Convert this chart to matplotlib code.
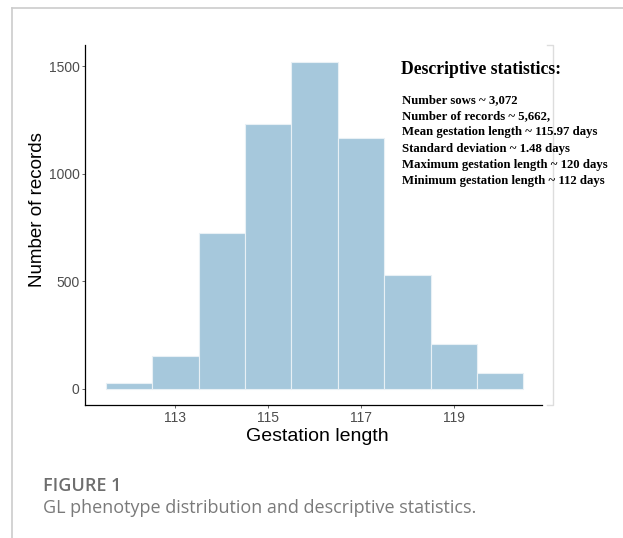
import matplotlib
matplotlib.use("Agg")
import matplotlib.pyplot as plt
from matplotlib.lines import Line2D

# Gestation length (days) and number of records per day
gestation = [112, 113, 114, 115, 116, 117, 118, 119, 120]
records = [28, 154, 726, 1233, 1523, 1168, 531, 206, 75]
x_ticks = [113, 115, 117, 119]
y_ticks = [0, 500, 1000, 1500]

stats_title = "Descriptive statistics:"
stats_lines = [
    "Number sows ~ 3,072",
    "Number of records ~ 5,662,",
    "Mean gestation length ~ 115.97 days",
    "Standard deviation ~ 1.48 days",
    "Maximum gestation length ~ 120 days",
    "Minimum gestation length ~ 112 days",
]

fig = plt.figure(figsize=(6.23, 5.38), dpi=100)
W, H = 623, 538

# page frame (light grey lines top and left)
fig.add_artist(Line2D([12 / W, 1], [1 - 8 / H, 1 - 8 / H], color="#cccccc", lw=1.2))
fig.add_artist(Line2D([12 / W, 12 / W], [0, 1 - 8 / H], color="#cccccc", lw=1.2))

# faint frame edge of the embedded image on the right
fig.add_artist(Line2D([547 / W, 553 / W, 553 / W, 547 / W],
                      [1 - 45 / H, 1 - 45 / H, 1 - 405 / H, 1 - 405 / H],
                      color="#dddddd", lw=1.0))

ax = fig.add_axes([85 / W, 1 - 405 / H, 457 / W, 360 / H])
ax.bar(gestation, records, width=1.0, color="#a6c8dc", edgecolor="#e8f0f5", linewidth=0.8)

ax.set_xlim(111.05, 120.9)
ax.set_ylim(-76, 1600)
ax.set_xticks(x_ticks)
ax.set_yticks(y_ticks)
ax.tick_params(axis="both", colors="#4d4d4d", labelsize=10, length=2.5, width=0.6)
ax.tick_params(axis="x", pad=1.5)
ax.tick_params(axis="y", pad=1.5)
for lab in ax.get_xticklabels() + ax.get_yticklabels():
    lab.set_family("Liberation Sans")
for side in ["top", "right"]:
    ax.spines[side].set_visible(False)
for side in ["left", "bottom"]:
    ax.spines[side].set_color("black")
    ax.spines[side].set_linewidth(0.9)

ax.set_xlabel("Gestation length", fontsize=14, family="Liberation Sans", color="black")
ax.set_ylabel("Number of records", fontsize=13.5, family="Liberation Sans", color="black")
ax.xaxis.set_label_coords(0.508, -0.063)
ax.yaxis.set_label_coords(-0.085, 0.542)

# descriptive statistics block (Times-like bold)
fig.text(401 / W, 1 - 70 / H, stats_title, family="Liberation Serif", weight="bold",
         fontsize=12.7, va="center", ha="left")
for i, line in enumerate(stats_lines):
    fig.text(402 / W, 1 - (100 + i * 16.2) / H, line, family="Liberation Serif",
             weight="bold", fontsize=9.2, va="center", ha="left")

# caption
fig.text(43 / W, 1 - 486 / H, "FIGURE 1", family="Open Sans", weight="semibold",
         fontsize=13, color="#6e6e6e", va="center", ha="left")
fig.text(43 / W, 1 - 508 / H, "GL phenotype distribution and descriptive statistics.",
         family="Open Sans", fontsize=13, color="#7a7a7a", va="center", ha="left")

fig.savefig("out.png", dpi=100)
